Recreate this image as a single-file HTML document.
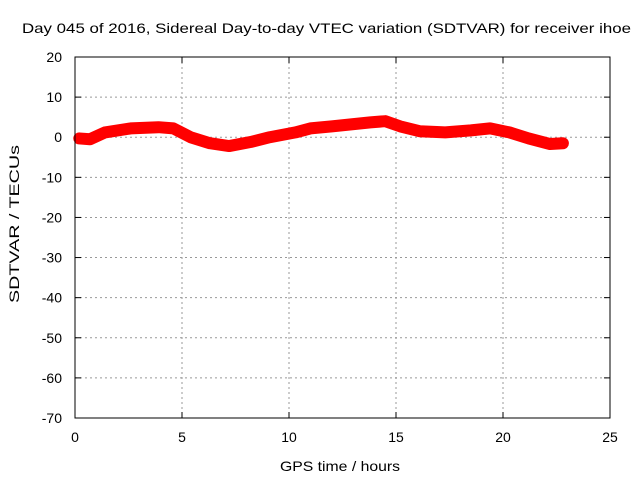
<!DOCTYPE html>
<html><head><meta charset="utf-8"><style>
body{margin:0;background:#fff}
svg{display:block;font-family:"Liberation Sans",sans-serif;font-size:14px}
</style></head><body>
<svg id="c" width="640" height="480">
<text x="22" y="33" textLength="609" lengthAdjust="spacingAndGlyphs">Day 045 of 2016, Sidereal Day-to-day VTEC variation (SDTVAR) for receiver ihoe</text>
<g id="grid"></g>
<g id="ticks"></g>
<g id="series"></g>
<rect x="75" y="57" width="535" height="361" fill="none" stroke="#000"/>
<text x="280" y="471" textLength="120" lengthAdjust="spacingAndGlyphs">GPS time / hours</text>
<text transform="translate(19,303) rotate(-90)" textLength="158" lengthAdjust="spacingAndGlyphs">SDTVAR / TECUs</text>
</svg>
<script>
const xTicks=[0,5,10,15,20,25];
const yTicks=[20,10,0,-10,-20,-30,-40,-50,-60,-70];
const hours=[0.2,0.7,1.4,2.6,3.9,4.6,5.4,6.3,7.2,8.2,9.1,10.3,11,12,12.9,13.8,14.5,15.2,16.1,17.3,18.5,19.4,20.3,21.2,22.2,22.8];
const sdtvar=[-0.3,-0.5,1.2,2.2,2.5,2.2,0,-1.5,-2.2,-1.2,0,1.2,2.2,2.7,3.2,3.7,4,2.7,1.5,1.2,1.7,2.2,1.2,-0.3,-1.7,-1.5];
const X=v=>75+v*535/25, Y=v=>57+(20-v)*361/90;
const NS='http://www.w3.org/2000/svg';
const mk=(p,t,a)=>{const e=document.createElementNS(NS,t);for(const k in a)e.setAttribute(k,a[k]);document.getElementById(p).appendChild(e);return e;};
xTicks.forEach(v=>{
 if(v>0&&v<25){const g=mk('grid','line',{x1:X(v),x2:X(v),y1:57,y2:418,stroke:'#999','stroke-dasharray':'2,3'});
 
 }
 const t=mk('ticks','text',{x:X(v),y:442,'text-anchor':'middle'});t.textContent=v;
 
 
 mk('ticks','line',{x1:X(v),x2:X(v),y1:418,y2:412,stroke:'#000'});
 mk('ticks','line',{x1:X(v),x2:X(v),y1:57,y2:63,stroke:'#000'});
});
yTicks.forEach(v=>{
 if(v<20&&v>-70){const g=mk('grid','line',{x1:75,x2:610,y1:Y(v),y2:Y(v),stroke:'#999','stroke-dasharray':'2,3'});
 
 }
 const t=mk('ticks','text',{x:62,y:Y(v)+5,'text-anchor':'end'});t.textContent=v;
 
 
 mk('ticks','line',{x1:75,x2:81,y1:Y(v),y2:Y(v),stroke:'#000'});
 mk('ticks','line',{x1:610,x2:604,y1:Y(v),y2:Y(v),stroke:'#000'});
});
const pts=hours.map((h,i)=>X(h)+','+Y(sdtvar[i])).join(' ');
const pl=mk('series','polyline',{points:pts,fill:'none',stroke:'#f00','stroke-width':12,'stroke-linejoin':'round','stroke-linecap':'round'});


</script>
</body></html>
